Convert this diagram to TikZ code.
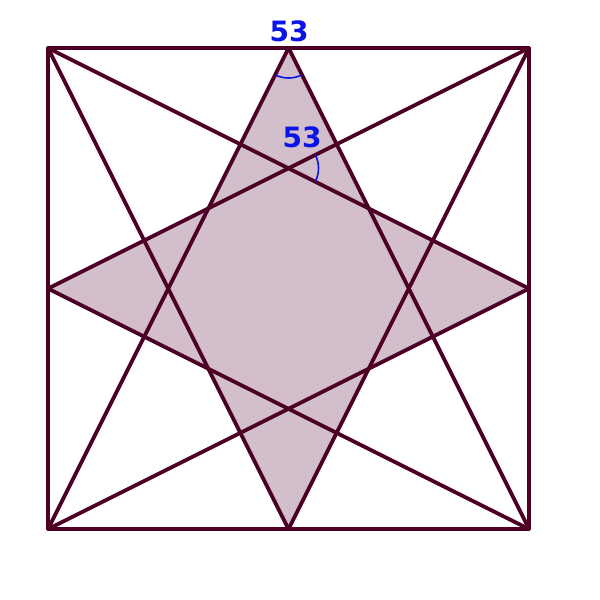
\documentclass[tikz,border=0pt]{standalone}
\usepackage{fontspec}
\setmainfont{DejaVu Sans}
\definecolor{edgec}{HTML}{4D0026}
\definecolor{fillc}{HTML}{D3BFCB}
\definecolor{labc}{HTML}{0A14E6}
\begin{document}
\begin{tikzpicture}[x=1pt,y=-1pt,
  edge/.style={draw=edgec,line width=3.8pt,line cap=round,line join=round},
  anglearc/.style={draw=labc,line width=1.6pt},
  lab/.style={text=labc,font=\fontsize{28}{28}\selectfont\bfseries,inner sep=0pt}]
\useasboundingbox (0,0) rectangle (600,600);
% corners and midpoints
\coordinate (TL) at (48,48);
\coordinate (TR) at (529,48);
\coordinate (BL) at (48,529);
\coordinate (BR) at (529,529);
\coordinate (TM) at (288.5,48);
\coordinate (BM) at (288.5,529);
\coordinate (LM) at (48,288.5);
\coordinate (RM) at (529,288.5);
\coordinate (C1) at (288.5,168.25);
% star fill (union of two rhombi)
\fill[fillc] (TM) -- (168.25,288.5) -- (BM) -- (408.75,288.5) -- cycle;
\fill[fillc] (LM) -- (C1) -- (RM) -- (288.5,408.75) -- cycle;
% lines
\draw[edge] (TM) -- (BL);
\draw[edge] (TM) -- (BR);
\draw[edge] (BM) -- (TL);
\draw[edge] (BM) -- (TR);
\draw[edge] (LM) -- (TR);
\draw[edge] (LM) -- (BR);
\draw[edge] (RM) -- (TL);
\draw[edge] (RM) -- (BL);
\draw[edge] (TL) rectangle (BR);
% angle arcs
\draw[anglearc] ([shift={(63.43:30)}]TM) arc[start angle=63.43,end angle=116.57,radius=30];
\draw[anglearc] ([shift={(-26.57:30)}]C1) arc[start angle=-26.57,end angle=26.57,radius=30];
% labels
\node[lab] (l1) at (289,31) {53};
\node[lab] (l2) at (302,137) {53};
\end{tikzpicture}
\end{document}
